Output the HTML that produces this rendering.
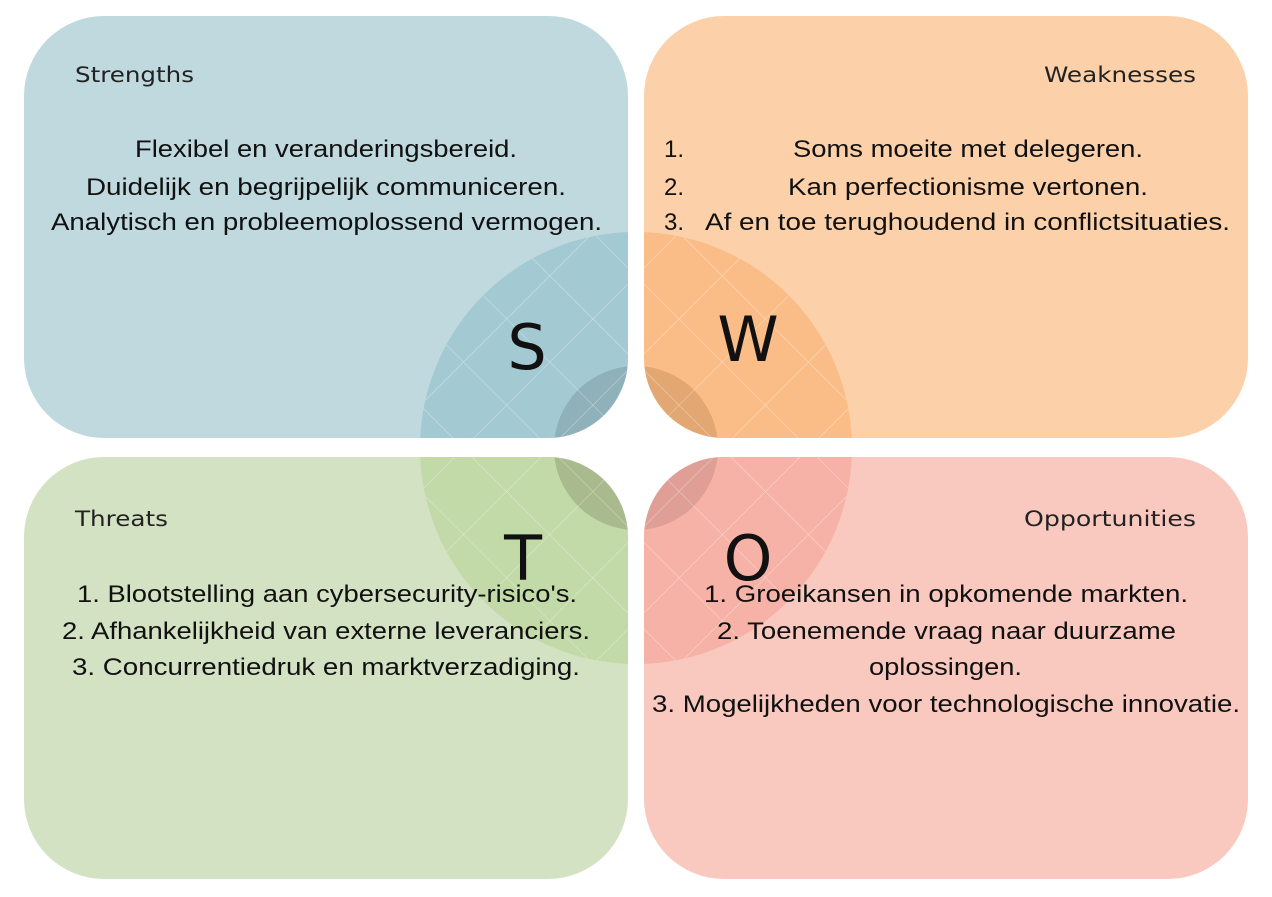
<!DOCTYPE html>
<html><head><meta charset="utf-8"><style>
body{margin:0;background:#fff;width:1272px;height:897px;overflow:hidden}
svg{display:block}
.lab{font-family:"DejaVu Sans","Liberation Sans",sans-serif;font-size:21px;fill:#222}
.t{font-family:"Liberation Sans",sans-serif;font-size:24px;fill:#111}
.big{font-family:"DejaVu Sans","Liberation Sans",sans-serif;font-size:62px;fill:#111}
</style></head><body>
<svg width="1272" height="897" viewBox="0 0 1272 897" xmlns="http://www.w3.org/2000/svg">
<defs>
<clipPath id="cs"><rect x="24" y="16" width="604" height="422" rx="80"/></clipPath>
<clipPath id="cw"><rect x="644" y="16" width="604" height="422" rx="80"/></clipPath>
<clipPath id="ct"><rect x="24" y="457" width="604" height="422" rx="80"/></clipPath>
<clipPath id="co"><rect x="644" y="457" width="604" height="422" rx="80"/></clipPath>
<pattern id="g" width="61" height="61" patternUnits="userSpaceOnUse" patternTransform="translate(636,448) rotate(45)">
<path d="M0 0H61M0 0V61" stroke="#fff" stroke-opacity="0.5" stroke-width="1"/>
</pattern>
<clipPath id="bc"><circle cx="636" cy="448" r="216"/></clipPath>
</defs>
<rect x="24" y="16" width="604" height="422" rx="80" fill="#bfd9de"/>
<rect x="644" y="16" width="604" height="422" rx="80" fill="#fcd1a9"/>
<rect x="24" y="457" width="604" height="422" rx="80" fill="#d4e2c4"/>
<rect x="644" y="457" width="604" height="422" rx="80" fill="#f9c9bf"/>
<g clip-path="url(#cs)"><circle cx="636" cy="448" r="216" fill="#a3c9d2"/><circle cx="636" cy="448" r="82" fill="#8fb1b9"/></g>
<g clip-path="url(#cw)"><circle cx="636" cy="448" r="216" fill="#fabd88"/><circle cx="636" cy="448" r="82" fill="#e2a773"/></g>
<g clip-path="url(#ct)"><circle cx="636" cy="448" r="216" fill="#c2d9a8"/><circle cx="636" cy="448" r="82" fill="#a9ba8f"/></g>
<g clip-path="url(#co)"><circle cx="636" cy="448" r="216" fill="#f6b2a7"/><circle cx="636" cy="448" r="82" fill="#df9f97"/></g>
<g clip-path="url(#bc)"><g clip-path="url(#cs)"><rect x="0" y="0" width="1272" height="897" fill="url(#g)"/></g><g clip-path="url(#cw)"><rect x="0" y="0" width="1272" height="897" fill="url(#g)"/></g><g clip-path="url(#ct)"><rect x="0" y="0" width="1272" height="897" fill="url(#g)"/></g><g clip-path="url(#co)"><rect x="0" y="0" width="1272" height="897" fill="url(#g)"/></g></g>
<g class="lab">
<text x="75" y="82" textLength="119" lengthAdjust="spacingAndGlyphs">Strengths</text>
<text x="1044" y="82" textLength="152" lengthAdjust="spacingAndGlyphs">Weaknesses</text>
<text x="75" y="526" textLength="93" lengthAdjust="spacingAndGlyphs">Threats</text>
<text x="1024" y="526" textLength="172" lengthAdjust="spacingAndGlyphs">Opportunities</text>
</g>
<text class="big" x="527" y="369" text-anchor="middle">S</text>
<text class="big" x="748" y="361" text-anchor="middle">W</text>
<text class="big" x="523" y="580" text-anchor="middle">T</text>
<text class="big" x="748" y="580" text-anchor="middle">O</text>
<g class="t">
<text x="135" y="157" textLength="382" lengthAdjust="spacingAndGlyphs">Flexibel en veranderingsbereid.</text>
<text x="86" y="195" textLength="480" lengthAdjust="spacingAndGlyphs">Duidelijk en begrijpelijk communiceren.</text>
<text x="51" y="230" textLength="551" lengthAdjust="spacingAndGlyphs">Analytisch en probleemoplossend vermogen.</text>
<text x="77" y="602" textLength="500" lengthAdjust="spacingAndGlyphs">1. Blootstelling aan cybersecurity-risico's.</text>
<text x="62" y="639" textLength="528" lengthAdjust="spacingAndGlyphs">2. Afhankelijkheid van externe leveranciers.</text>
<text x="72" y="675" textLength="508" lengthAdjust="spacingAndGlyphs">3. Concurrentiedruk en marktverzadiging.</text>
<text x="704" y="602" textLength="484" lengthAdjust="spacingAndGlyphs">1. Groeikansen in opkomende markten.</text>
<text x="717" y="639" textLength="459" lengthAdjust="spacingAndGlyphs">2. Toenemende vraag naar duurzame</text>
<text x="869" y="675" textLength="153" lengthAdjust="spacingAndGlyphs">oplossingen.</text>
<text x="652" y="712" textLength="588" lengthAdjust="spacingAndGlyphs">3. Mogelijkheden voor technologische innovatie.</text>
<text x="793" y="157" textLength="350" lengthAdjust="spacingAndGlyphs">Soms moeite met delegeren.</text>
<text x="788" y="195" textLength="360" lengthAdjust="spacingAndGlyphs">Kan perfectionisme vertonen.</text>
<text x="705" y="230" textLength="525" lengthAdjust="spacingAndGlyphs">Af en toe terughoudend in conflictsituaties.</text>
<text x="664" y="157">1.</text>
<text x="664" y="195">2.</text>
<text x="664" y="230">3.</text>
</g>
</svg>
</body></html>
